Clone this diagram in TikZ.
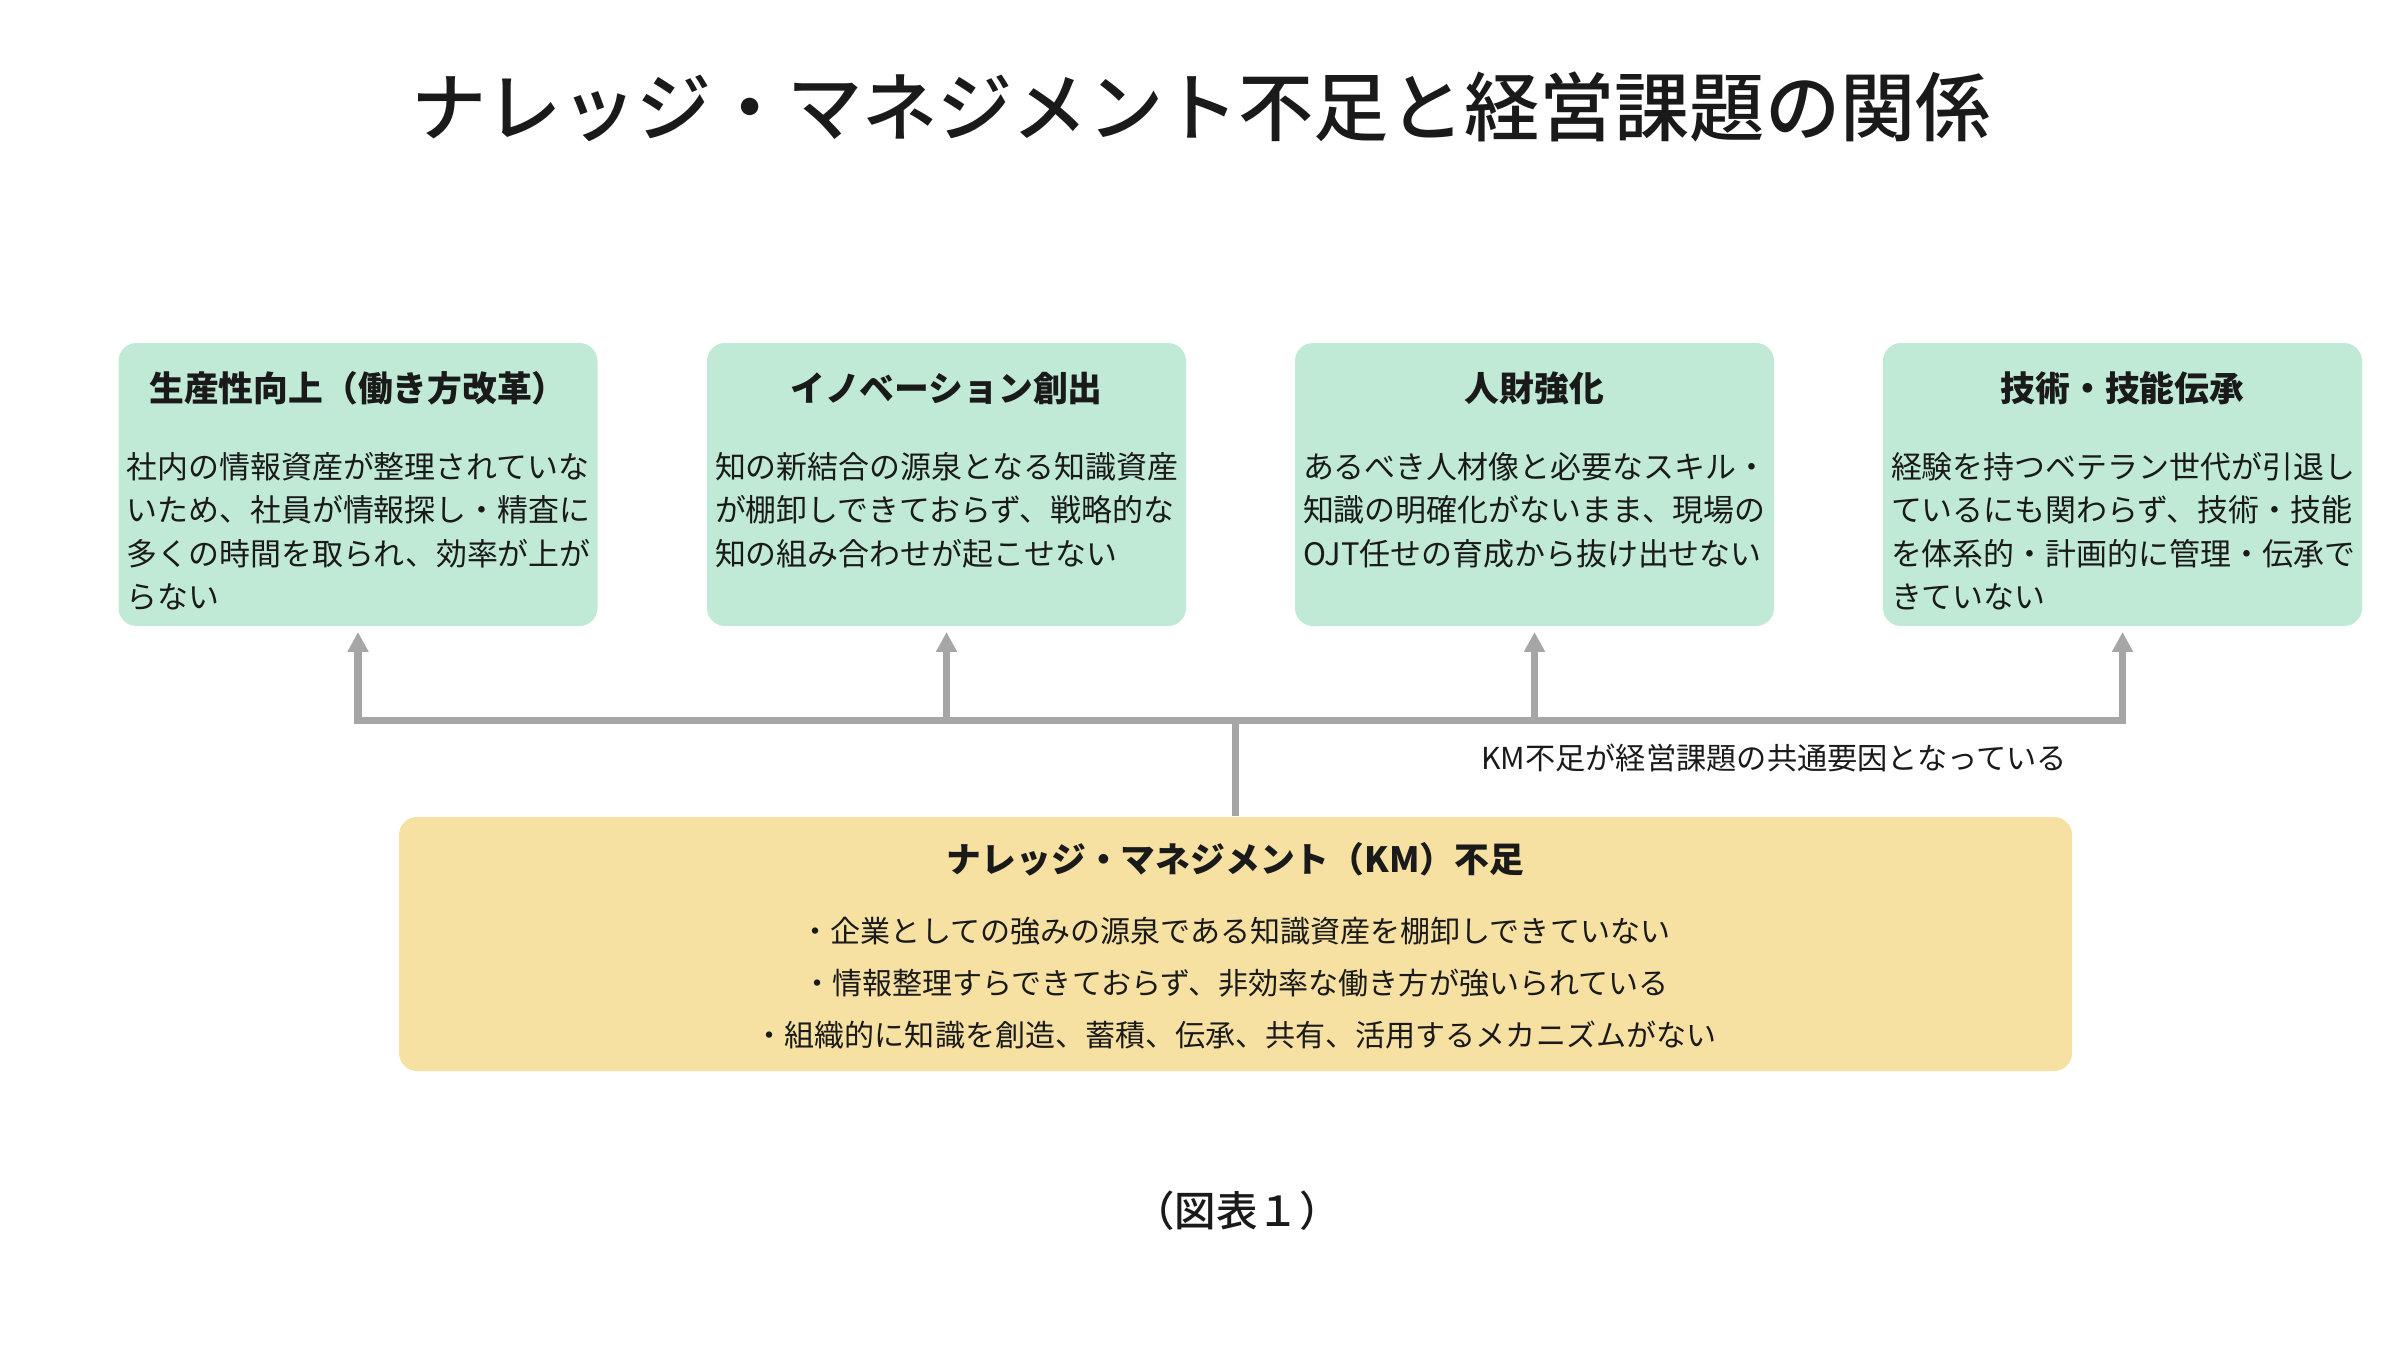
\documentclass[tikz,border=0pt]{standalone}
\usepackage{fontspec}
\setmainfont{Noto Sans CJK JP}
\newfontfamily\mediumjp{Noto Sans CJK JP Medium}
\usetikzlibrary{positioning, calc, arrows.meta}

\definecolor{issuegreen}{HTML}{C0EAD6}
\definecolor{causeyellow}{HTML}{F6E1A3}
\definecolor{linkgray}{HTML}{A6A6A6}
\definecolor{inkblack}{HTML}{1A1A1A}

\tikzset{
  issuebox/.style={fill=issuegreen, rounded corners=0.18cm, minimum width=4.79cm, minimum height=2.83cm, inner sep=0pt},
  causebox/.style={fill=causeyellow, rounded corners=0.18cm, minimum width=16.73cm, minimum height=2.54cm, inner sep=0pt},
  boxhead/.style={font=\bfseries\fontsize{9.9}{12}\selectfont, text=inkblack, inner sep=0pt},
  boxbody/.style={font=\fontsize{8.8}{12.4}\selectfont, text=inkblack, align=left, inner sep=0pt, anchor=north west},
  link/.style={draw=linkgray, line width=2.1pt},
  linkarrow/.style={link, -{Triangle[length=0.2cm, width=0.2cm]}, shorten >=1.5pt},
}

\begin{document}
\begin{tikzpicture}
    \useasboundingbox (0,0) rectangle (24,-13.5);

    % Title
    \node[font=\mediumjp\fontsize{21.4}{25}\selectfont, text=inkblack] (title) at (12.01,-1.07) {ナレッジ・マネジメント不足と経営課題の関係};

    % Management issues
    \node[issuebox] (b1) at (3.58,-4.845) {};
    \node[issuebox] (b2) at (9.465,-4.845) {};
    \node[issuebox] (b3) at (15.345,-4.845) {};
    \node[issuebox] (b4) at (21.225,-4.845) {};

    \node[boxhead] (b1head) at ($(b1.north)+(0,-0.46)$) {生産性向上（働き方改革）};
    \node[boxhead] (b2head) at ($(b2.north)+(0,-0.46)$) {イノベーション創出};
    \node[boxhead] (b3head) at ($(b3.north)+(0,-0.46)$) {人財強化};
    \node[boxhead] (b4head) at ($(b4.north)+(0,-0.46)$) {技術・技能伝承};

    \node[boxbody] (b1body) at ($(b1.north west)+(0.08,-1.09)$) {社内の情報資産が整理されていな\\いため、社員が情報探し・精査に\\多くの時間を取られ、効率が上が\\らない};
    \node[boxbody] (b2body) at ($(b2.north west)+(0.08,-1.09)$) {知の新結合の源泉となる知識資産\\が棚卸しできておらず、戦略的な\\知の組み合わせが起こせない};
    \node[boxbody] (b3body) at ($(b3.north west)+(0.08,-1.09)$) {あるべき人材像と必要なスキル・\\知識の明確化がないまま、現場の\\OJT任せの育成から抜け出せない};
    \node[boxbody] (b4body) at ($(b4.north west)+(0.08,-1.09)$) {経験を持つベテラン世代が引退し\\ているにも関わらず、技術・技能\\を体系的・計画的に管理・伝承で\\きていない};

    % Common cause
    \node[causebox] (km) at (12.355,-9.44) {};
    \node[boxhead] (kmhead) at ($(km.north)+(0,-0.43)$) {ナレッジ・マネジメント（KM）不足};
    \node[boxbody, anchor=north, align=center, font=\fontsize{8.55}{14.8}\selectfont] (kmbody) at ($(km.north)+(0,-1.0)$) {・企業としての強みの源泉である知識資産を棚卸しできていない\\・情報整理すらできておらず、非効率な働き方が強いられている\\・組織的に知識を創造、蓄積、伝承、共有、活用するメカニズムがない};

    % Connectors
    \coordinate (hub) at ($(km.north)+(0,0.96)$);
    \draw[link] (km.north) -- (hub);
    \foreach \b in {b1,b2,b3,b4}
        \draw[linkarrow] (hub) -| (\b.south);

    \node[font=\fontsize{8.6}{10}\selectfont, text=inkblack] (linklabel) at (17.74,-7.58) {KM不足が経営課題の共通要因となっている};

    % Caption
    \node[font=\mediumjp\fontsize{11.8}{14}\selectfont, text=inkblack] (caption) at (12.37,-12.11) {（図表１）};
\end{tikzpicture}
\end{document}
